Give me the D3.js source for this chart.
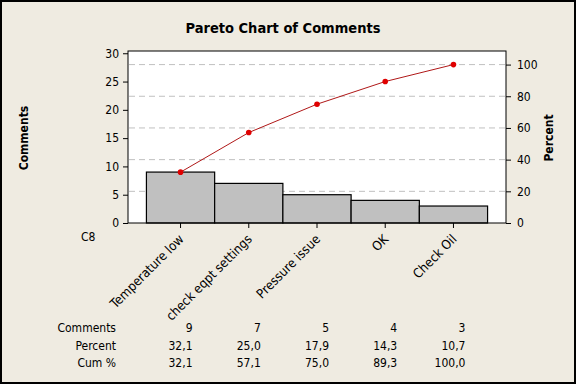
<!DOCTYPE html>
<html>
<head>
<meta charset="utf-8">
<script src="https://cdn.jsdelivr.net/npm/d3@7"></script>
<style>
  body { margin: 0; background: #efebe1; }
  svg { display: block; font-family: Tahoma, "DejaVu Sans Condensed", "DejaVu Sans", sans-serif; }
</style>
</head>
<body>
<svg id="chart"></svg>
<script>
const categories = ["Temperature low", "check eqpt settings", "Pressure issue", "OK", "Check Oil"];
const counts = [9, 7, 5, 4, 3];
const percents = [32.1, 25.0, 17.9, 14.3, 10.7];
const cumPercents = [32.1, 57.1, 75.0, 89.3, 100.0];
const leftTicks = [0, 5, 10, 15, 20, 25, 30];
const rightTicks = [0, 20, 40, 60, 80, 100];

const W = 576, H = 384;
const plot = { left: 128, right: 506, top: 51, bottom: 223 };

const svg = d3.select("#chart").attr("width", W).attr("height", H);

svg.append("rect")
  .attr("x", 1).attr("y", 1).attr("width", W - 2).attr("height", H - 2)
  .attr("fill", "#efebe1").attr("stroke", "#000").attr("stroke-width", 2);

svg.append("text")
  .attr("x", 283).attr("y", 33)
  .attr("text-anchor", "middle")
  .style("font-size", "14.5px").style("font-weight", "bold")
  .text("Pareto Chart of Comments");

const total = d3.sum(counts);
const x = d3.scaleBand().domain(categories).range([plot.left, plot.right])
  .paddingInner(0).paddingOuter(0.27);
const yLeft = d3.scaleLinear().domain([0, 30.4]).range([plot.bottom, plot.top]);
const yRight = d3.scaleLinear().domain([0, 100]).range([yLeft(0), yLeft(total)]);

// plot area
svg.append("rect")
  .attr("x", plot.left).attr("y", plot.top)
  .attr("width", plot.right - plot.left).attr("height", plot.bottom - plot.top)
  .attr("fill", "#fff");

// grid lines
svg.append("g")
  .selectAll("line")
  .data(rightTicks.filter(d => d > 0))
  .join("line")
  .attr("x1", plot.left + 1).attr("x2", plot.right - 1)
  .attr("y1", d => yRight(d)).attr("y2", d => yRight(d))
  .attr("stroke", "#c0c0c0").attr("stroke-dasharray", "6,4");

// bars
svg.append("g")
  .selectAll("rect")
  .data(counts)
  .join("rect")
  .attr("x", (d, i) => x(categories[i]))
  .attr("y", d => yLeft(d))
  .attr("width", x.bandwidth())
  .attr("height", d => yLeft(0) - yLeft(d))
  .attr("fill", "#c0c0c0").attr("stroke", "#000").attr("stroke-width", 1.2);

// cumulative line
const cx = (d, i) => x(categories[i]) + x.bandwidth() / 2;
svg.append("path")
  .datum(cumPercents)
  .attr("d", d3.line().x(cx).y(d => yRight(d)))
  .attr("fill", "none").attr("stroke", "#b01818").attr("stroke-width", 1);
svg.append("g")
  .selectAll("circle")
  .data(cumPercents)
  .join("circle")
  .attr("cx", cx).attr("cy", d => yRight(d)).attr("r", 2.8)
  .attr("fill", "#e00000");

// frame
svg.append("rect")
  .attr("x", plot.left).attr("y", plot.top)
  .attr("width", plot.right - plot.left).attr("height", plot.bottom - plot.top)
  .attr("fill", "none").attr("stroke", "#000").attr("stroke-width", 1);

// axes
const styleAxis = g => {
  g.select(".domain").remove();
  g.selectAll(".tick line").attr("stroke", "#000");
  g.selectAll(".tick text").style("font-size", "12px").attr("fill", "#000")
    .style("font-family", 'Tahoma, "DejaVu Sans Condensed", "DejaVu Sans", sans-serif');
};

svg.append("g")
  .attr("transform", `translate(${plot.left},0)`)
  .call(d3.axisLeft(yLeft).tickValues(leftTicks).tickSize(5).tickPadding(4))
  .call(styleAxis);

svg.append("g")
  .attr("transform", `translate(${plot.right},0)`)
  .call(d3.axisRight(yRight).tickValues(rightTicks).tickSize(5).tickPadding(6))
  .call(styleAxis);

svg.append("g")
  .attr("transform", `translate(0,${plot.bottom})`)
  .call(d3.axisBottom(x).tickSize(5).tickFormat(""))
  .call(styleAxis);

// category labels
svg.append("g")
  .selectAll("text")
  .data(categories)
  .join("text")
  .attr("transform", d => `translate(${x(d) + x.bandwidth() / 2 + 4},240) rotate(-45)`)
  .attr("text-anchor", "end")
  .style("font-size", "13px")
  .text(d => d);

svg.append("text")
  .attr("x", 81).attr("y", 241)
  .style("font-size", "12px")
  .text("C8");

// axis titles
svg.append("text")
  .attr("transform", "translate(28,138) rotate(-90)")
  .attr("text-anchor", "middle")
  .style("font-size", "12px").style("font-weight", "bold")
  .text("Comments");

svg.append("text")
  .attr("transform", "translate(553,138) rotate(-90)")
  .attr("text-anchor", "middle")
  .style("font-size", "12px").style("font-weight", "bold")
  .text("Percent");

// table under chart
const fmt = v => v.toFixed(1).replace(".", ",");
const rows = [
  { label: "Comments", values: counts.map(String), y: 332 },
  { label: "Percent", values: percents.map(fmt), y: 350 },
  { label: "Cum %", values: cumPercents.map(fmt), y: 367 }
];

const table = svg.append("g").style("font-size", "12px");
rows.forEach(r => {
  table.append("text")
    .attr("x", 116).attr("y", r.y)
    .attr("text-anchor", "end")
    .text(r.label);
  table.selectAll(null)
    .data(r.values)
    .join("text")
    .attr("x", (d, i) => x(categories[i]) + x.bandwidth() / 2 + 12)
    .attr("y", r.y)
    .attr("text-anchor", "end")
    .text(d => d);
});
</script>
</body>
</html>
